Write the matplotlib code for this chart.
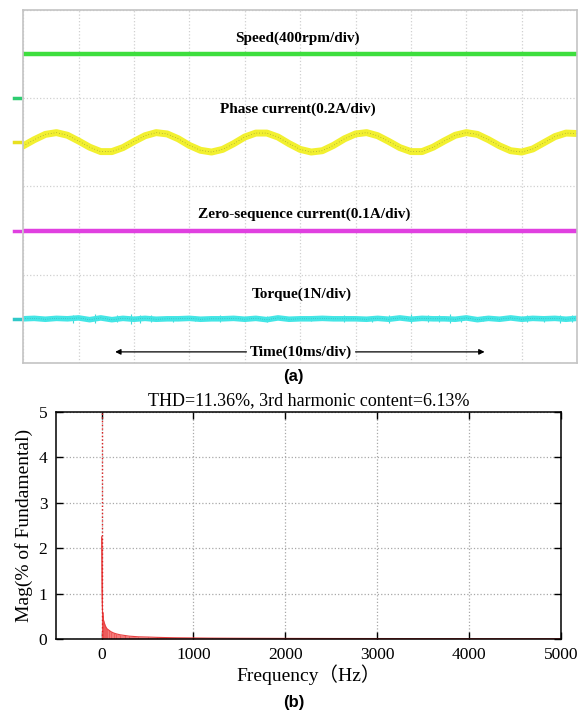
import numpy as np
import matplotlib
matplotlib.use('Agg')
import matplotlib.pyplot as plt

# ---- data ----
# (a) scope traces, time in ms, level in div (8 div full height)
t_ms = [0, 2, 4, 6, 8, 10, 12, 14, 16, 18, 20, 22, 24, 26, 28, 30, 32, 34, 36, 38, 40,
        42, 44, 46, 48, 50, 52, 54, 56, 58, 60, 62, 64, 66, 68, 70, 72, 74, 76, 78, 80,
        82, 84, 86, 88, 90, 92, 94, 96, 98, 100]
phase_cur = [4.92, 5.06, 5.18, 5.22, 5.16, 5.03, 4.89, 4.79, 4.79, 4.88, 5.02, 5.15, 5.22,
             5.19, 5.08, 4.93, 4.82, 4.78, 4.84, 4.97, 5.12, 5.21, 5.21, 5.12, 4.97, 4.84,
             4.78, 4.81, 4.93, 5.08, 5.19, 5.22, 5.15, 5.02, 4.88, 4.79, 4.79, 4.89, 5.03,
             5.16, 5.22, 5.18, 5.06, 4.92, 4.81, 4.78, 4.85, 4.99, 5.13, 5.21, 5.20]
torque = [1.00, 1.01, 0.99, 1.01, 1.00, 1.02, 0.98, 1.02, 0.98, 1.01, 0.99, 1.01, 0.99,
          1.00, 1.00, 1.01, 0.99, 1.00, 1.00, 1.01, 0.99, 1.01, 0.98, 1.02, 0.99, 1.00,
          1.00, 1.01, 1.00, 1.00, 1.00, 0.99, 1.01, 0.99, 1.02, 0.99, 1.01, 1.00, 1.00,
          0.99, 1.02, 0.98, 1.01, 0.99, 1.02, 0.99, 1.01, 1.00, 1.01, 0.99, 1.01]
# noise spikes on torque trace: time, top and bottom level
spike_t = [9, 13, 17, 19.5, 21, 23, 27, 31, 35.5, 44, 52, 58, 63, 66, 70, 73, 75, 77,
           79, 83, 91, 94, 97, 99]
spike_hi = [1.09, 1.10, 1.08, 1.11, 1.09, 1.08, 1.07, 1.06, 1.08, 1.07, 1.06, 1.09,
            1.07, 1.08, 1.10, 1.09, 1.08, 1.10, 1.07, 1.06, 1.08, 1.07, 1.09, 1.08]
spike_lo = [0.91, 0.90, 0.92, 0.89, 0.91, 0.92, 0.93, 0.94, 0.92, 0.93, 0.94, 0.92,
            0.93, 0.91, 0.90, 0.92, 0.93, 0.91, 0.92, 0.94, 0.92, 0.93, 0.91, 0.92]
speed_t = [0, 100]
speed = [7.0, 7.0]
zero_seq = [3.0, 3.0]

# (b) spectrum, Hz and % of fundamental
freqs = [0, 2, 4, 6, 8, 10, 15, 20, 30, 40, 50, 60, 80, 100, 130, 160, 200, 250, 300,
         400, 500, 600, 700, 800, 1000, 1200, 1500, 2000, 2500, 3000, 3500, 4000, 4500, 5000]
mags = [2.25, 1.6, 1.05, 0.85, 0.7, 0.6, 0.5, 0.42, 0.35, 0.29, 0.25, 0.22, 0.19, 0.16,
        0.13, 0.11, 0.09, 0.075, 0.06, 0.045, 0.04, 0.033, 0.028, 0.024, 0.02, 0.016, 0.013,
        0.01, 0.008, 0.007, 0.006, 0.005, 0.004, 0.004]
fund_freq = 0
fund_mag = 100

serif = ['Liberation Serif', 'DejaVu Serif']
serif_cjk = ['Liberation Serif', 'Noto Sans CJK SC']

fig = plt.figure(figsize=(5.8, 7.13), dpi=100)

# ---- (a) oscilloscope panel ----
ax1 = fig.add_axes([0.040, 0.491, 0.955, 0.495])
ax1.set_xlim(0, 100)
ax1.set_ylim(0, 8)
ax1.set_xticks(np.arange(0, 101, 10))
ax1.set_yticks([0, 2, 4, 6, 8])
ax1.tick_params(length=0, labelbottom=False, labelleft=False)
ax1.grid(True, color='#d0d0d0', linestyle=':', linewidth=0.9)
for s in ax1.spines.values():
    s.set_color('#c4c4c4')
    s.set_linewidth(1.2)

ax1.plot(speed_t, speed, color='#3ede3e', lw=3.2, solid_capstyle='butt')
ax1.plot(t_ms, phase_cur, color='#f2f030', lw=5.0)
ax1.plot(t_ms, phase_cur, color='#8a8a30', lw=0.5, linestyle=(0, (1, 3)))
ax1.plot(speed_t, zero_seq, color='#e040e0', lw=3.2, solid_capstyle='butt')
ax1.vlines(spike_t, spike_lo, spike_hi, color='#44d8d8', lw=0.8)
ax1.plot(t_ms, torque, color='#44e6e6', lw=4.0)
ax1.plot(t_ms, torque, color='#2a8a8a', lw=0.4, linestyle=(0, (1, 3)))

# channel markers on the left edge
for lvl, c in [(6.0, '#2ecc71'), (5.0, '#e8e020'), (3.0, '#e040e0'), (1.0, '#30c8c8')]:
    ax1.plot([-1.6, -0.6], [lvl, lvl], color=c, lw=2.5, clip_on=False)

lab = dict(ha='center', va='center', fontsize=11, fontweight='bold', family=serif)
ax1.text(49.5, 7.37, 'Speed(400rpm/div)', **lab)
ax1.text(49.6, 5.76, 'Phase current(0.2A/div)', **lab)
ax1.text(50.7, 3.36, 'Zero-sequence current(0.1A/div)', **lab)
ax1.text(50.2, 1.56, 'Torque(1N/div)', **lab)
ax1.text(50.2, 0.25, 'Time(10ms/div)', **lab)
ax1.annotate('', xy=(16.6, 0.25), xytext=(40.3, 0.25),
             arrowprops=dict(arrowstyle='-|>', color='black', lw=0.9, mutation_scale=8,
                             shrinkA=0, shrinkB=0))
ax1.annotate('', xy=(83.3, 0.25), xytext=(60.0, 0.25),
             arrowprops=dict(arrowstyle='-|>', color='black', lw=0.9, mutation_scale=8,
                             shrinkA=0, shrinkB=0))

fig.text(0.506, 1 - 376 / 713, '(a)', ha='center', va='center', fontsize=12,
         fontweight='bold', family=['Liberation Sans', 'DejaVu Sans'])

# ---- (b) spectrum panel ----
ax2 = fig.add_axes([0.096, 0.104, 0.871, 0.318])
ax2.fill_between(freqs, mags, color='#f47a7a', lw=0)
ax2.vlines(freqs, 0, mags, color='#ec5050', lw=0.5)
ax2.plot(freqs, mags, color='#e84040', lw=0.8)
ax2.vlines([fund_freq], 0, [fund_mag], color='#e02020', lw=1.0, linestyles=':')

ax2.set_xlim(-500, 5000)
ax2.set_ylim(0, 5)
ax2.set_xticks([0, 1000, 2000, 3000, 4000, 5000])
ax2.set_yticks([0, 1, 2, 3, 4, 5])
ax2.grid(True, color='#a8a8a8', linestyle=':', linewidth=0.9)
ax2.tick_params(direction='in', top=True, right=True, length=5, width=1,
                labelsize=12.5, pad=6)
for lbl in ax2.get_xticklabels() + ax2.get_yticklabels():
    lbl.set_family(serif)
for s in ax2.spines.values():
    s.set_linewidth(1.1)

ax2.set_title('THD=11.36%, 3rd harmonic content=6.13%', fontsize=13, family=serif, pad=5)
ax2.set_ylabel('Mag(% of Fundamental)', fontsize=14, family=serif, labelpad=4)
ax2.set_xlabel('Frequency（Hz）', fontsize=14, family=serif_cjk, labelpad=1)

fig.text(0.507, 1 - 702 / 713, '(b)', ha='center', va='center', fontsize=12,
         fontweight='bold', family=['Liberation Sans', 'DejaVu Sans'])

fig.savefig('out.png', dpi=100)
